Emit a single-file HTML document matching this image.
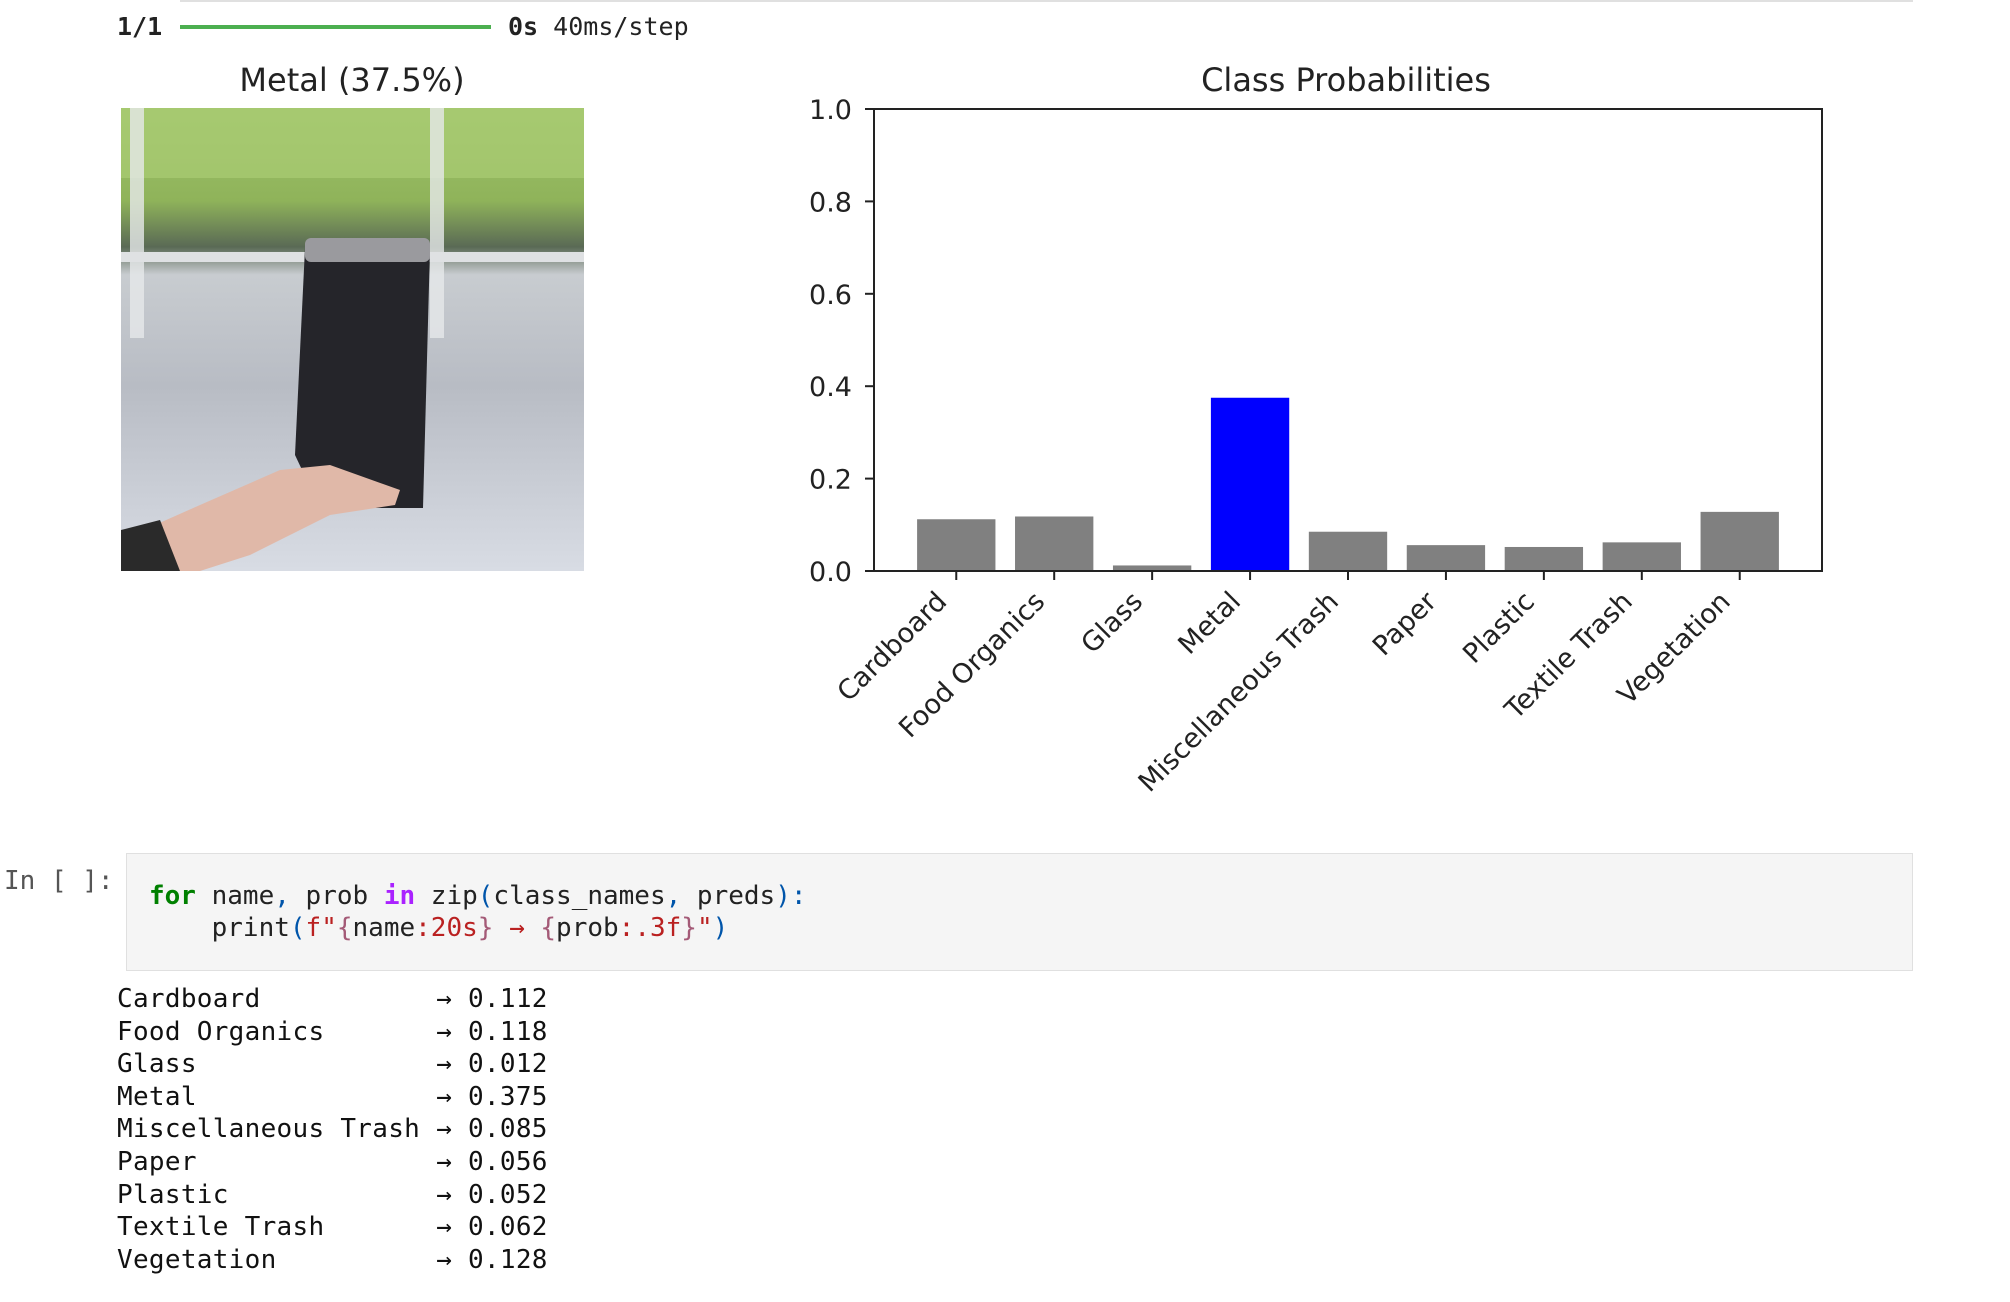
<!DOCTYPE html>
<html><head><meta charset="utf-8">
<style>
html,body{margin:0;padding:0;background:#fff;width:2010px;height:1302px;overflow:hidden;position:relative}
.mono{font-family:"DejaVu Sans Mono","Liberation Mono",monospace;}
.abs{position:absolute;white-space:pre}
</style></head>
<body>
<div class="abs" style="left:180px;top:0;width:1733px;height:2px;background:#e0e0e0"></div>
<div class="abs mono" style="left:117px;top:12px;font-size:25px;font-weight:bold;color:#222">1/1</div>
<div class="abs" style="left:180px;top:25px;width:311px;height:4px;background:#4caf50"></div>
<div class="abs mono" style="left:508px;top:12px;font-size:25px;color:#222"><b>0s</b> 40ms/step</div>

<svg class="abs" style="left:0;top:0" width="2010" height="800">
  <text x="352" y="91" font-family="DejaVu Sans, sans-serif" font-size="32" text-anchor="middle" fill="#222">Metal (37.5%)</text>
  <g>
    <defs>
      <linearGradient id="bg" x1="0" y1="0" x2="0" y2="1">
        <stop offset="0" stop-color="#9fc46a"/><stop offset="0.2" stop-color="#8fb35a"/>
        <stop offset="0.3" stop-color="#5a6a55"/><stop offset="0.36" stop-color="#c8ccd0"/>
        <stop offset="0.6" stop-color="#b8bcc4"/><stop offset="1" stop-color="#d8dce4"/>
      </linearGradient>
    </defs>
    <rect x="121" y="108" width="463" height="463" fill="url(#bg)"/>
    <rect x="121" y="108" width="463" height="70" fill="#a9cc74" opacity="0.7"/>
    <rect x="130" y="108" width="14" height="230" fill="#e6e8ea" opacity="0.8"/>
    <rect x="430" y="108" width="14" height="230" fill="#e6e8ea" opacity="0.8"/>
    <rect x="121" y="252" width="463" height="10" fill="#dfe1e3"/>
    <polygon points="305,248 430,248 423,508 320,508 295,455" fill="#25252a"/>
    <rect x="305" y="238" width="125" height="24" fill="#9a9a9e" rx="6"/>
    <polygon points="121,540 200,505 280,470 330,465 400,490 395,505 330,515 250,555 200,571 121,571" fill="#e0b8a8"/>
    <polygon points="121,530 160,520 180,571 121,571" fill="#2a2a2a"/>
  </g>
  <text x="1346" y="91" font-family="DejaVu Sans, sans-serif" font-size="32" text-anchor="middle" fill="#222">Class Probabilities</text>
  <g id="chart"></g>
</svg>

<div class="abs mono" style="left:4px;top:866px;font-size:26px;color:#555">In [ ]:</div>
<div class="abs" style="left:126px;top:853px;width:1785px;height:116px;background:#f5f5f5;border:1px solid #e0e0e0"></div>
<div class="abs mono" style="left:149px;top:880px;font-size:26px;line-height:32px;color:#222"><span style="color:#008000;font-weight:bold">for</span> name<span style="color:#05a">,</span> prob <span style="color:#a2f;font-weight:bold">in</span> zip<span style="color:#05a">(</span>class_names<span style="color:#05a">,</span> preds<span style="color:#05a">):</span>
    print<span style="color:#05a">(</span><span style="color:#ba2121">f"</span><span style="color:#a45a77">{</span>name<span style="color:#ba2121">:20s</span><span style="color:#a45a77">}</span><span style="color:#ba2121"> → </span><span style="color:#a45a77">{</span>prob<span style="color:#ba2121">:.3f</span><span style="color:#a45a77">}</span><span style="color:#ba2121">"</span><span style="color:#05a">)</span></div>
<div class="abs mono" id="out" style="left:117px;top:983px;font-size:26px;letter-spacing:0.3px;line-height:32.6px;color:#111"></div>

<script>
const categories = ["Cardboard","Food Organics","Glass","Metal","Miscellaneous Trash","Paper","Plastic","Textile Trash","Vegetation"];
const probs = [0.112,0.118,0.012,0.375,0.085,0.056,0.052,0.062,0.128];
const yTicks = [0,0.2,0.4,0.6,0.8,1.0];
const highlightIndex = 3;

const NS="http://www.w3.org/2000/svg";
const L=874,R=1822,T=109,B=571;
const n=categories.length;
const xmin=-0.4-0.05*(n-1+0.8), xmax=(n-1)+0.4+0.05*(n-1+0.8);
const xs=v=>L+(v-xmin)/(xmax-xmin)*(R-L);
const ys=v=>B-v*(B-T);
const g=document.getElementById('chart');
function mk(tag,attrs){const e=document.createElementNS(NS,tag);for(const k in attrs)e.setAttribute(k,attrs[k]);return e;}
const bw=(xs(0.4)-xs(-0.4));
probs.forEach((p,i)=>{
  const r=mk('rect',{x:xs(i)-bw/2,y:ys(p),width:bw,height:ys(0)-ys(p),fill:i===highlightIndex?'#0000ff':'#808080'});
  
  
  g.appendChild(r);
});
const frame=mk('rect',{x:L,y:T,width:R-L,height:B-T,fill:'none',stroke:'#222','stroke-width':2});


g.appendChild(frame);
yTicks.forEach(v=>{
  g.appendChild(mk('line',{x1:L-9,x2:L,y1:ys(v),y2:ys(v),stroke:'#222','stroke-width':2}));
  const t=mk('text',{x:L-22,y:ys(v)+10,'font-family':'DejaVu Sans, sans-serif','font-size':27,'text-anchor':'end',fill:'#222'});
  t.textContent=v.toFixed(1);
  
  
  g.appendChild(t);
});
categories.forEach((c,i)=>{
  const x=xs(i);
  g.appendChild(mk('line',{x1:x,x2:x,y1:B,y2:B+9,stroke:'#222','stroke-width':2}));
  const t=mk('text',{'font-family':'DejaVu Sans, sans-serif','font-size':27,'text-anchor':'end',fill:'#222',transform:`translate(${x-8},${B+32}) rotate(-45)`});
  t.textContent=c;
  
  
  g.appendChild(t);
});
const out=document.getElementById('out');
out.textContent=categories.map((c,i)=>c.padEnd(20)+'→ '+probs[i].toFixed(3)).join('\n');
</script>
</body></html>
